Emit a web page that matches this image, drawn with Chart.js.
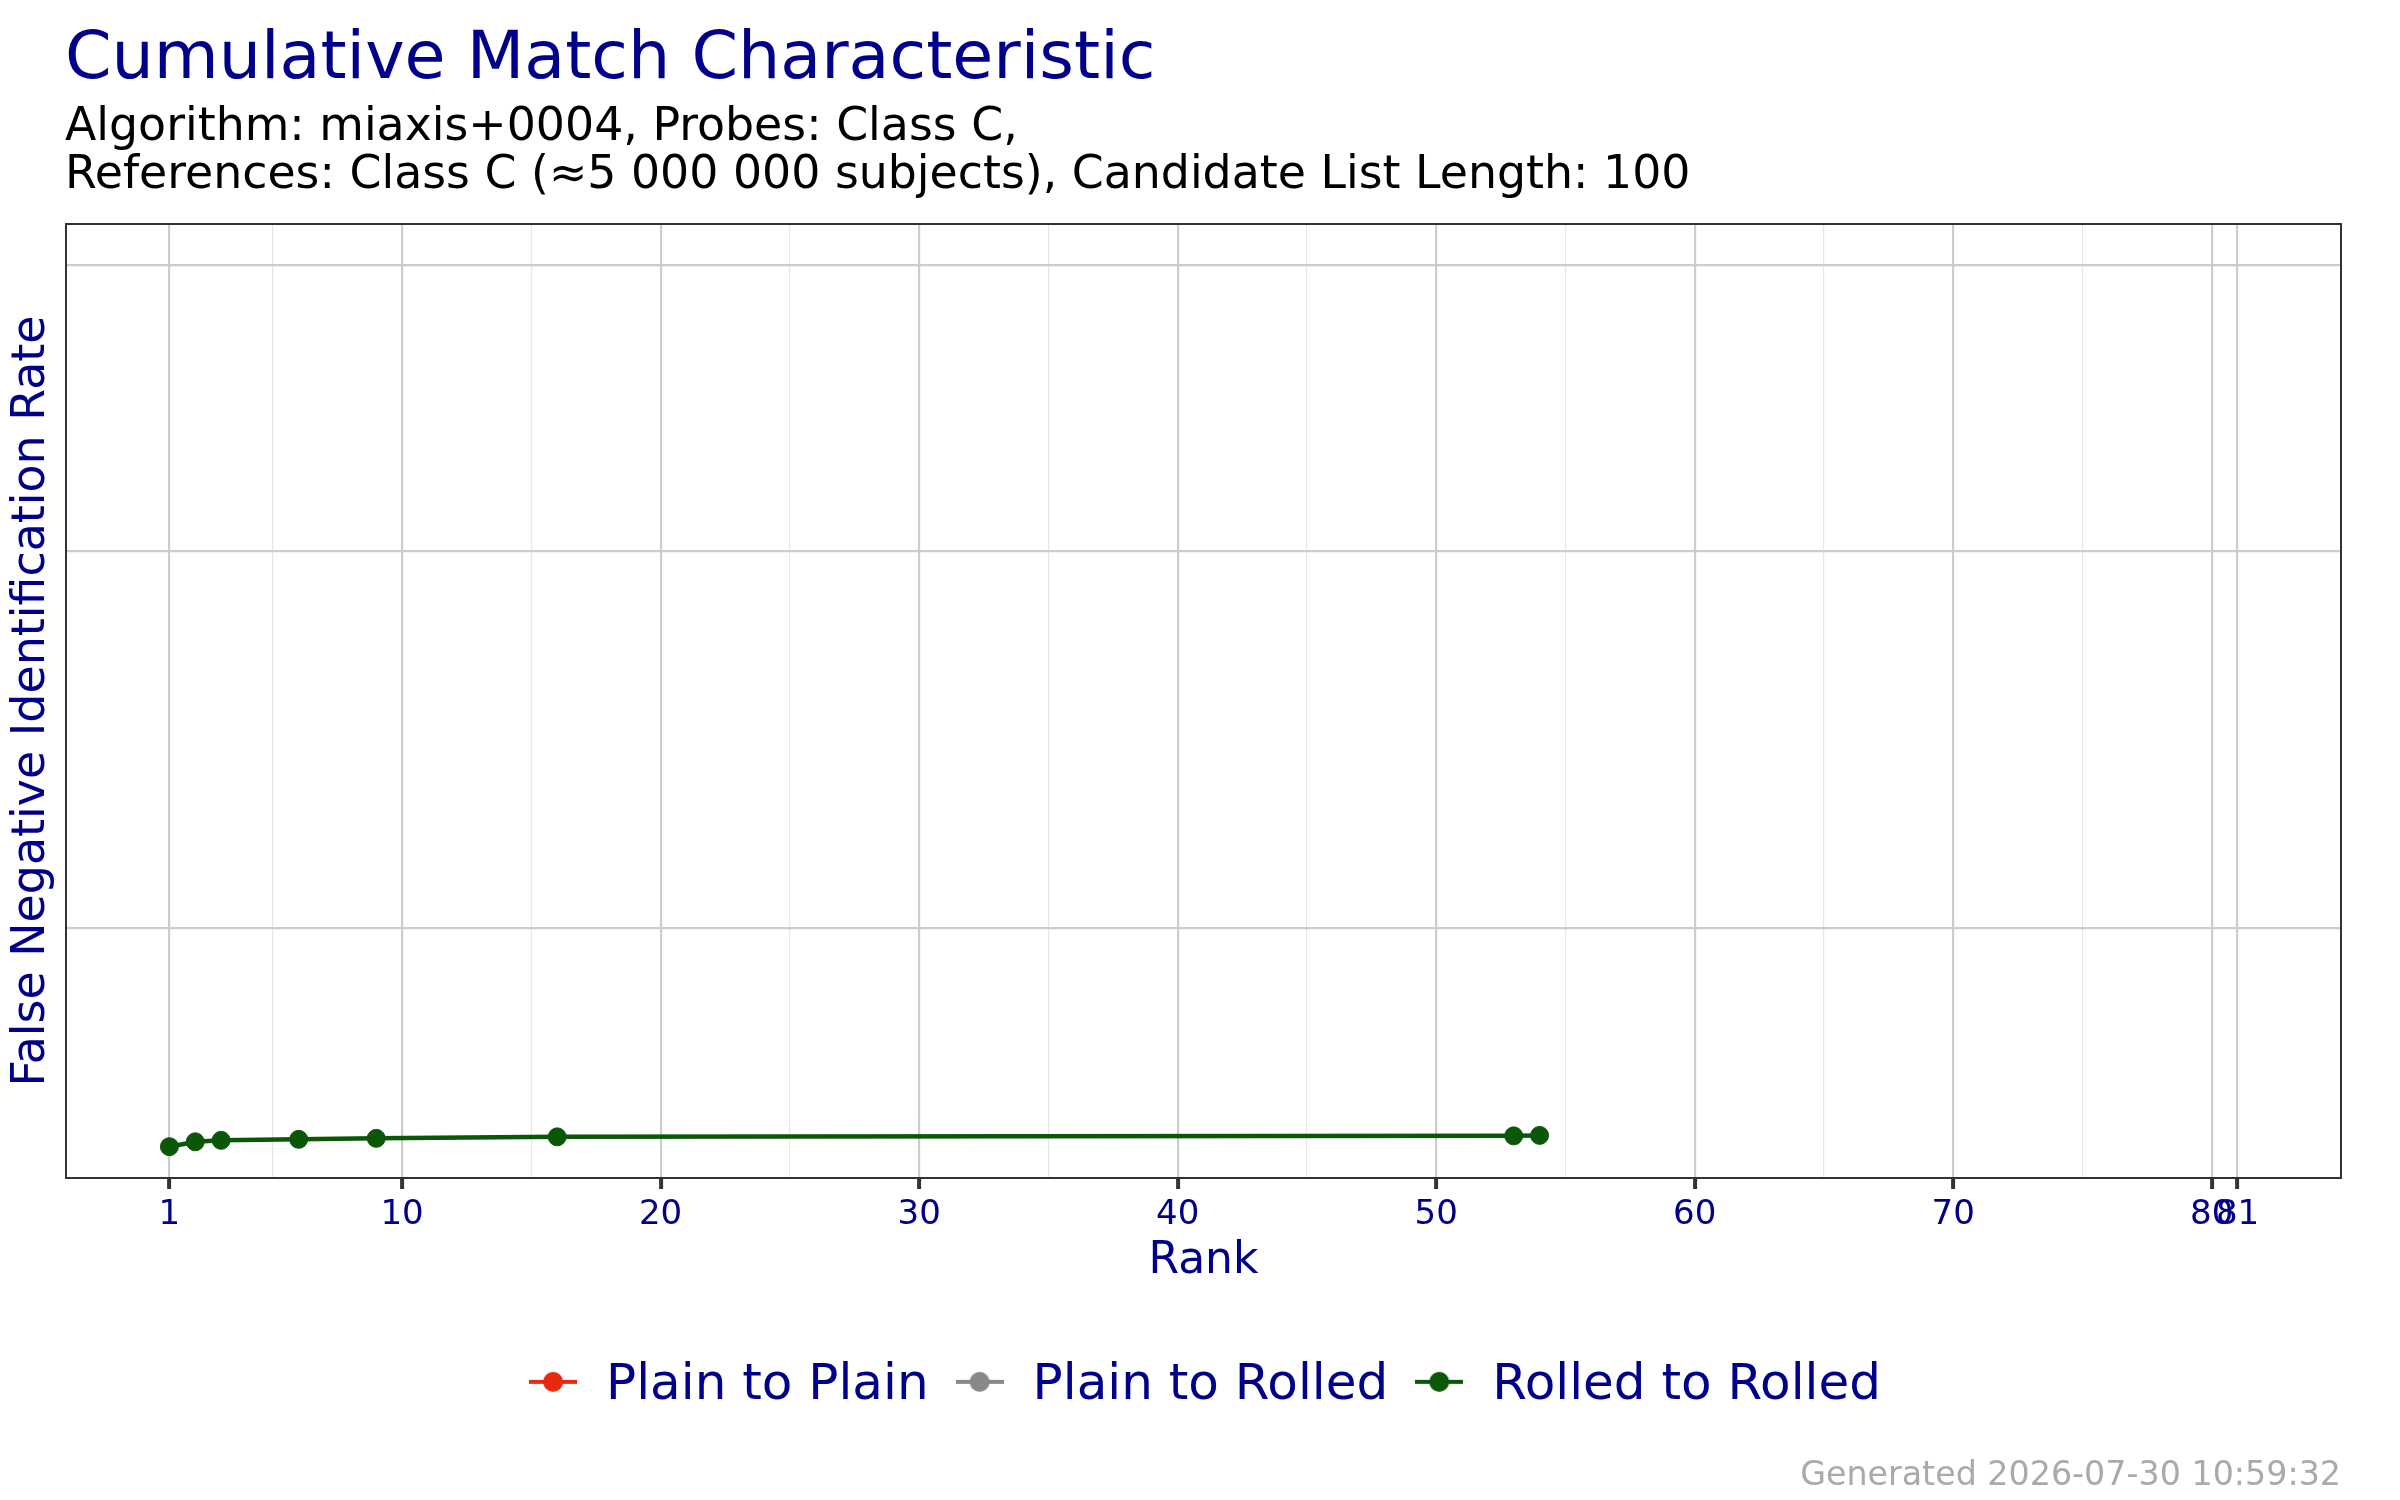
<!DOCTYPE html>
<html>
<head>
<meta charset="utf-8">
<script src="https://cdn.jsdelivr.net/npm/chart.js@4.4.1/dist/chart.umd.min.js"></script>
<style>
html, body { margin: 0; padding: 0; background: #ffffff; }
#wrap { width: 2400px; height: 1500px; }
</style>
</head>
<body>
<div id="wrap"><canvas id="c" width="2400" height="1500"></canvas></div>
<script>
// ---- data ----
const seriesNames = ['Plain to Plain', 'Plain to Rolled', 'Rolled to Rolled'];
const seriesColors = ['#E8290B', '#888888', '#0B5708'];
const plainToPlainRanks = [];
const plainToPlainFnir = [];
const plainToRolledRanks = [];
const plainToRolledFnir = [];
const rolledToRolledRanks = [1, 2, 3, 6, 9, 16, 53, 54];
const rolledToRolledFnir = [0.0850, 0.0840, 0.0837, 0.0835, 0.0833, 0.0830, 0.0828, 0.0827];
const xMajorTicks = [1, 10, 20, 30, 40, 50, 60, 70, 80, 81];
const xMinorTicks = [5, 15, 25, 35, 45, 55, 65, 75];
const yGridValues = [0.01, 0.02, 0.05];
const titleText = 'Cumulative Match Characteristic';
const subtitleLines = ['Algorithm: miaxis+0004, Probes: Class C,', 'References: Class C (\u22485 000 000 subjects), Candidate List Length: 100'];
const xTitle = 'Rank';
const yTitle = 'False Negative Identification Rate';
const captionText = 'Generated 2026-07-30 10:59:32';

// ---- helpers ----
const FONT = 'DejaVu Sans';
const NAVY = '#00008B';
function toPoints(xs, ys) { return xs.map((x, i) => ({ x: x, y: ys[i] })); }
const seriesData = [
  toPoints(plainToPlainRanks, plainToPlainFnir),
  toPoints(plainToRolledRanks, plainToRolledFnir),
  toPoints(rolledToRolledRanks, rolledToRolledFnir)
];
function makeMarker(color) {
  const c = document.createElement('canvas');
  c.width = 48; c.height = 30;
  const g = c.getContext('2d');
  g.strokeStyle = color; g.lineWidth = 4;
  g.beginPath(); g.moveTo(0, 11); g.lineTo(48, 11); g.stroke();
  g.fillStyle = color;
  g.beginPath(); g.arc(24, 11, 10, 0, Math.PI * 2); g.fill();
  return c;
}
const markers = seriesColors.map(makeMarker);
const allXTicks = xMajorTicks.concat(xMinorTicks).sort((a, b) => a - b);
const isMajor = v => xMajorTicks.indexOf(v) >= 0;

const decorPlugin = {
  id: 'decor',
  afterDraw(chart) {
    const ctx = chart.ctx, a = chart.chartArea;
    ctx.save();
    ctx.strokeStyle = '#333333';
    ctx.lineWidth = 2;
    ctx.strokeRect(a.left, a.top, a.right - a.left, a.bottom - a.top);
    ctx.restore();

    ctx.save();
    ctx.fillStyle = NAVY;
    ctx.font = '45.9px "' + FONT + '"';
    ctx.textAlign = 'center';
    ctx.textBaseline = 'middle';
    ctx.translate(31.6, (a.top + a.bottom) / 2);
    ctx.rotate(-Math.PI / 2);
    ctx.fillText(yTitle, 0, 0);
    ctx.restore();

    ctx.save();
    ctx.fillStyle = '#AAAAAA';
    ctx.font = '33.3px "' + FONT + '"';
    ctx.textAlign = 'right';
    ctx.textBaseline = 'alphabetic';
    ctx.fillText(captionText, a.right, chart.height - 15.5);
    ctx.restore();
  }
};

const datasets = seriesNames.map((name, i) => ({
  label: name,
  data: seriesData[i],
  borderColor: seriesColors[i],
  backgroundColor: seriesColors[i],
  borderWidth: 4.5,
  pointRadius: 9,
  pointHoverRadius: 9,
  pointBorderWidth: 1,
  tension: 0,
  fill: false
}));

new Chart(document.getElementById('c'), {
  type: 'line',
  data: { datasets: datasets },
  plugins: [decorPlugin],
  options: {
    responsive: false,
    animation: false,
    devicePixelRatio: 1,
    events: [],
    layout: { padding: { left: 65, right: 59, top: 0, bottom: 79.15 } },
    plugins: {
      title: {
        display: true, text: titleText, align: 'start', color: NAVY,
        font: { family: FONT, size: 66.7, weight: 'normal', lineHeight: '80.4px' },
        padding: { top: 20.2, bottom: 0 }
      },
      subtitle: {
        display: true, text: subtitleLines, align: 'start', color: '#000000',
        font: { family: FONT, size: 45.8, weight: 'normal', lineHeight: '48.5px' },
        padding: { top: 3.25, bottom: 23.15 }
      },
      legend: {
        position: 'bottom', align: 'center',
        labels: {
          usePointStyle: true, pointStyleWidth: 56, padding: 23, color: NAVY,
          font: { family: FONT, size: 50 },
          generateLabels: chart => Chart.defaults.plugins.legend.labels.generateLabels(chart)
            .map((l, i) => Object.assign({}, l, { pointStyle: markers[i] }))
        }
      },
      tooltip: { enabled: false }
    },
    scales: {
      x: {
        type: 'linear', min: -3, max: 85,
        afterBuildTicks: s => { s.ticks = allXTicks.map(v => ({ value: v })); },
        afterFit: s => { s.height = 159.85; },
        ticks: {
          autoSkip: false, maxRotation: 0, padding: 5.5, color: NAVY,
          font: { family: FONT, size: 34 },
          callback: v => isMajor(v) ? String(v) : ''
        },
        grid: {
          color: c => (c.tick && isMajor(c.tick.value)) ? '#cccccc' : '#e6e6e6',
          lineWidth: c => (c.tick && isMajor(c.tick.value)) ? 2.2 : 1.2,
          tickColor: c => (c.tick && isMajor(c.tick.value)) ? '#333333' : 'rgba(0,0,0,0)',
          tickWidth: 4, tickLength: 11
        },
        border: { display: false },
        title: {
          display: true, text: xTitle, color: NAVY,
          font: { family: FONT, size: 44 },
          padding: { top: 0, bottom: 50.05 }
        }
      },
      y: {
        type: 'logarithmic', reverse: true, min: 0.009041, max: 0.09172,
        afterBuildTicks: s => { s.ticks = yGridValues.map(v => ({ value: v })); },
        afterFit: s => { s.width = 1; },
        ticks: { display: false },
        grid: { color: '#cccccc', lineWidth: 2.2, drawTicks: false },
        border: { display: false }
      }
    }
  }
});
</script>
</body>
</html>
